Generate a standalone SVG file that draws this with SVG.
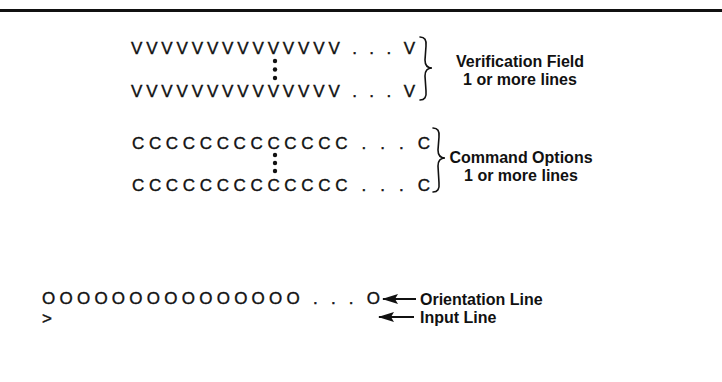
<svg xmlns="http://www.w3.org/2000/svg" width="722" height="382" viewBox="0 0 722 382">
<style>
.row{font-family:"Liberation Sans",Arial,sans-serif;font-size:17px;fill:#111;stroke:#111;stroke-width:0.4}
.lbl{font-family:"Liberation Sans",Arial,sans-serif;font-size:16px;font-weight:bold;fill:#111}
.brace{fill:none;stroke:#111;stroke-width:1.6;stroke-linecap:round}
.dot{fill:#111}
.conn{stroke:#111;stroke-width:2}
</style>
<defs>
<marker id="ah" viewBox="0 0 16 10" refX="15" refY="5" markerWidth="16" markerHeight="10" markerUnits="userSpaceOnUse" orient="auto">
<path d="M16,5 L0,0 L3,5 L0,10 Z" fill="#111"/>
</marker>
</defs>
<rect x="0" y="9" width="722" height="3" fill="#111"/>
<g id="verification">
<text class="row" x="131" y="54" textLength="284" lengthAdjust="spacing">VVVVVVVVVVVVVV . . . V</text>
<circle class="dot" cx="275" cy="61" r="2.2"/>
<circle class="dot" cx="275" cy="69.5" r="2.2"/>
<circle class="dot" cx="275" cy="78" r="2.2"/>
<text class="row" x="131" y="97" textLength="284" lengthAdjust="spacing">VVVVVVVVVVVVVV . . . V</text>
<path class="brace" d="M420,37 Q427,37 426,46 L425,60 Q425,68 432,68 Q425,68 425,76 L426,91 Q427,100 420,100"/>
<text class="lbl" x="520" y="67" text-anchor="middle">Verification Field</text>
<text class="lbl" x="520" y="85" text-anchor="middle">1 or more lines</text>
</g>
<g id="command">
<text class="row" x="132" y="149" textLength="298" lengthAdjust="spacing">CCCCCCCCCCCCC . . . C</text>
<circle class="dot" cx="275" cy="155" r="2.2"/>
<circle class="dot" cx="275" cy="163" r="2.2"/>
<circle class="dot" cx="275" cy="171" r="2.2"/>
<text class="row" x="132" y="191" textLength="298" lengthAdjust="spacing">CCCCCCCCCCCCC . . . C</text>
<path class="brace" d="M433,128 Q440,128 439,137 L438,150 Q438,158 445,158 Q438,158 438,166 L439,183 Q440,192 433,192"/>
<text class="lbl" x="521" y="163" text-anchor="middle">Command Options</text>
<text class="lbl" x="521" y="181" text-anchor="middle">1 or more lines</text>
</g>
<g id="orientation">
<text class="row" x="42" y="304" textLength="338" lengthAdjust="spacing">OOOOOOOOOOOOOOO . . . O</text>
<text class="lbl" x="420" y="305">Orientation Line</text>
</g>
<g id="input">
<text class="row" x="42" y="324">&gt;</text>
<text class="lbl" x="420" y="323">Input Line</text>
</g>
<g id="connectors">
<line class="conn" x1="416" y1="299" x2="383" y2="299" marker-end="url(#ah)"/>
<line class="conn" x1="414" y1="317" x2="379" y2="317" marker-end="url(#ah)"/>
</g>
</svg>
